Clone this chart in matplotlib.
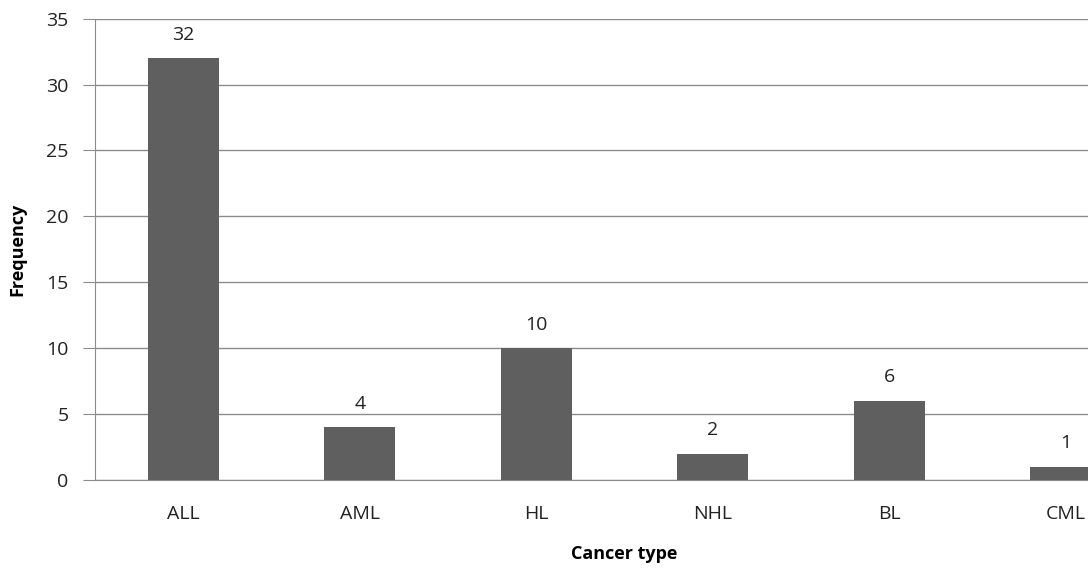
import matplotlib.pyplot as plt

categories = ['ALL', 'AML', 'HL', 'NHL', 'BL', 'CML']
frequency = [32, 4, 10, 2, 6, 1]

plt.rcParams['font.family'] = ['Open Sans', 'DejaVu Sans']

fig = plt.figure(figsize=(10.88, 5.70), dpi=100)
# axes runs past the right edge, as in the original (CML bar is cut off)
ax = fig.add_axes([95 / 1088, 1 - 480 / 570, 1059 / 1088, (480 - 18.7) / 570])

x = list(range(len(categories)))
ax.bar(x, frequency, width=0.4, color='#5f5f5f', zorder=3)
for xi, v in zip(x, frequency):
    ax.text(xi, v + 1.1, str(v), ha='center', va='bottom', fontsize=14, color='#222222')

ax.set_xlim(-0.5, 5.5)
ax.set_ylim(0, 35)
ax.set_yticks(range(0, 36, 5))
ax.set_xticks(x)
ax.set_xticklabels(categories)
ax.grid(axis='y', color='#8c8c8c', linewidth=1, zorder=0)
ax.set_axisbelow(True)

for s in ['top', 'right']:
    ax.spines[s].set_visible(False)
for s in ['left', 'bottom']:
    ax.spines[s].set_color('#8c8c8c')
ax.tick_params(axis='y', length=9, color='#8c8c8c', labelsize=14, pad=10, labelcolor='#222222')
ax.tick_params(axis='x', length=0, labelsize=14, pad=18, labelcolor='#222222')

ax.set_xlabel('Cancer type', fontsize=13, fontweight='bold', labelpad=16)
ax.set_ylabel('Frequency', fontsize=13, fontweight='bold', labelpad=14)

plt.savefig('out.png', dpi=100)
